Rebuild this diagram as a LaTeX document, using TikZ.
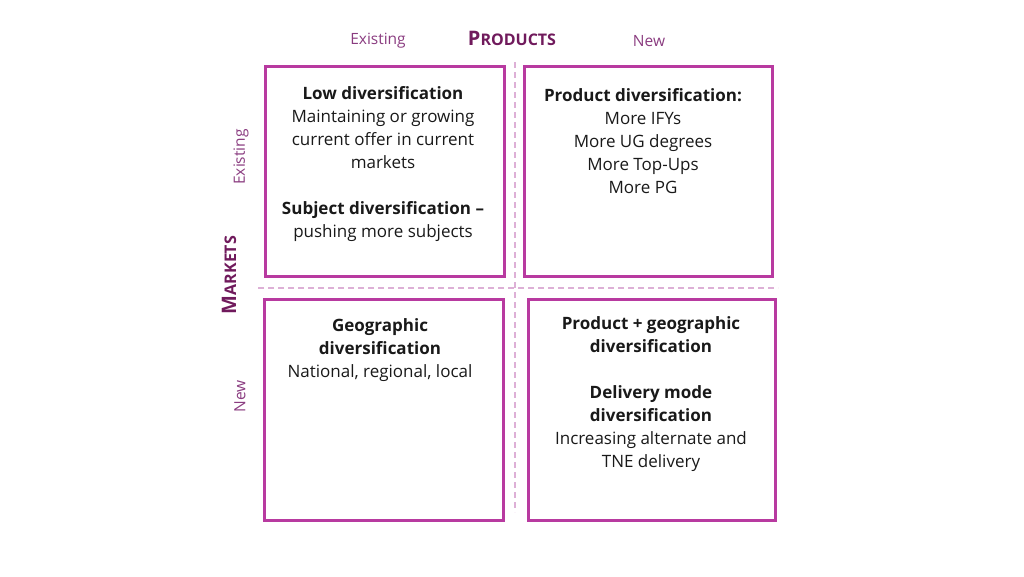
\documentclass[tikz,border=0pt]{standalone}
\usepackage{fontspec}
\setmainfont{Open Sans}
\definecolor{boxpink}{HTML}{B83AA0}
\definecolor{axispurple}{HTML}{8A3C80}
\definecolor{titlepurple}{HTML}{701A5C}
\definecolor{gridpink}{HTML}{DDB0D6}
\tikzset{
  quad/.style={draw=boxpink, line width=2.6pt, inner sep=0pt, anchor=north west},
  quadtext/.style={anchor=north, inner sep=0pt, align=center, text=black!90,
    font=\fontsize{17}{23}\selectfont},
  axislabel/.style={text=axispurple, font=\fontsize{15.5}{15.5}\selectfont},
  axistitle/.style={text=titlepurple, font=\bfseries\fontsize{20}{20}\selectfont},
  grid/.style={draw=gridpink, line width=1.4pt, dash pattern=on 6pt off 4pt}
}
\newcommand{\smallcap}[2]{#1{\fontsize{16}{16}\selectfont #2}}
\begin{document}
\begin{tikzpicture}[x=1pt,y=-1pt]
        \useasboundingbox (0,0) rectangle (1024,576);
        \coordinate (hl) at (258,288);
        \coordinate (hr) at (778,288);
        \coordinate (vt) at (515,62);
        \coordinate (vb) at (515,512);
        \draw[grid] (hl) -- (hr);
        \draw[grid] (vt) -- (vb);
        \node[quad, minimum width=239pt, minimum height=210pt] at (264,65)  (TL) {};
        \node[quad, minimum width=248pt, minimum height=210pt] at (523,65)  (TR) {};
        \node[quad, minimum width=239pt, minimum height=221pt] at (263,298) (BL) {};
        \node[quad, minimum width=247pt, minimum height=221pt] at (527,298) (BR) {};
        \node[axistitle] at (512,38) (products) {\smallcap{P}{RODUCTS}};
        \node[axislabel] at (378,41) (pexist) {Existing};
        \node[axislabel] at (649,41) (pnew) {New};
        \node[axistitle, rotate=90] at (229,275) (markets) {\smallcap{M}{ARKETS}};
        \node[axislabel, rotate=90] at (241,157) (mexist) {Existing};
        \node[axislabel, rotate=90] at (240,396) (mnew) {New};
        \node[quadtext] at (383,86) (low) {\textbf{Low diversification}\\
          Maintaining or growing\\ current offer in current\\ markets\\[23pt]
          \textbf{Subject diversification –}\\ pushing more subjects};
        \node[quadtext] at (643,88) (prod) {\textbf{Product diversification:}\\
          More IFYs\\ More UG degrees\\ More Top-Ups\\ More PG};
        \node[quadtext] at (380,318) (geo) {\textbf{Geographic}\\
          \textbf{diversification}\\ National, regional, local};
        \node[quadtext] at (651,316) (both) {\textbf{Product + geographic}\\
          \textbf{diversification}\\[23pt] \textbf{Delivery mode}\\
          \textbf{diversification}\\ Increasing alternate and\\ TNE delivery};
      \end{tikzpicture}
\end{document}
